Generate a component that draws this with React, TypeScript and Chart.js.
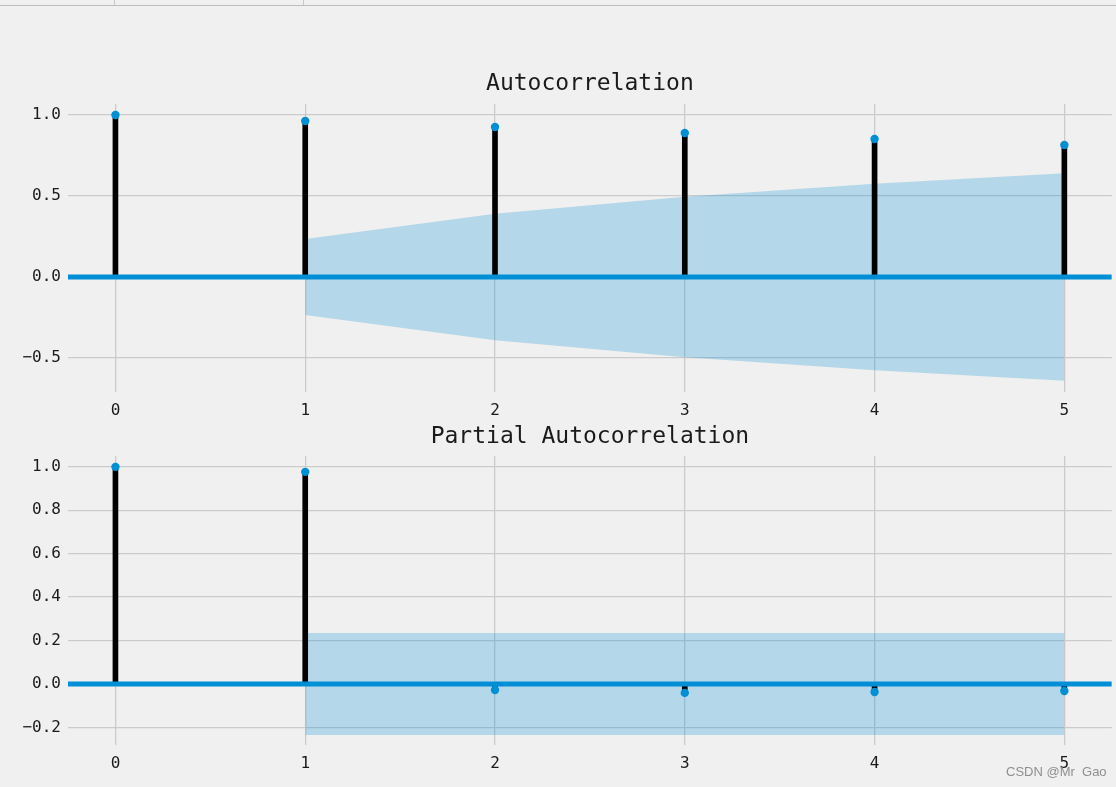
import React, { useEffect, useRef } from "react";
import { Chart, registerables } from "chart.js";

Chart.register(...registerables);

const LAGS = [0, 1, 2, 3, 4, 5];
const X_TICKS = [0, 1, 2, 3, 4, 5];
const ACF_VALUES = [1.0, 0.963, 0.926, 0.889, 0.852, 0.815];
const ACF_CONF_LAGS = [1, 2, 3, 4, 5];
const ACF_CONF = [0.235, 0.39, 0.495, 0.575, 0.64];
const PACF_VALUES = [1.0, 0.977, -0.028, -0.041, -0.037, -0.032];
const PACF_CONF_LAGS = [1, 2, 3, 4, 5];
const PACF_CONF = [0.235, 0.235, 0.235, 0.235, 0.235];
const ACF_Y_TICKS = [-0.5, 0.0, 0.5, 1.0];
const PACF_Y_TICKS = [-0.2, 0.0, 0.2, 0.4, 0.6, 0.8, 1.0];
const X_MIN = -0.25;
const X_MAX = 5.25;

const BLUE = "#008fd5";
const BG = "#f0f0f0";
const GRID = "#cbcbcb";
const MONO = '"DejaVu Sans Mono", "Liberation Mono", monospace';

type PanelSpec = {
  title: string;
  values: number[];
  confLags: number[];
  conf: number[];
  yMin: number;
  yMax: number;
  yTicks: number[];
  titleY: number;
  padTop: number;
  xAxisHeight: number;
};

function makeConfig(p: PanelSpec): any {
  const titlePlugin = {
    id: "panelTitle",
    afterDraw(chart: any) {
      const ctx = chart.ctx;
      const { left, right } = chart.chartArea;
      ctx.save();
      ctx.font = `23px ${MONO}`;
      ctx.fillStyle = "#1a1a1a";
      ctx.textAlign = "center";
      ctx.textBaseline = "middle";
      ctx.fillText(p.title, (left + right) / 2, p.titleY);
      ctx.restore();
    },
  };
  const bgPlugin = {
    id: "bgFill",
    beforeDraw(chart: any) {
      const ctx = chart.ctx;
      ctx.save();
      ctx.fillStyle = BG;
      ctx.fillRect(0, 0, chart.width, chart.height);
      ctx.restore();
    },
  };
  return {
    type: "scatter",
    data: {
      datasets: [
        {
          type: "line",
          label: "upper",
          data: p.confLags.map((l, i) => ({ x: l, y: p.conf[i] })),
          borderWidth: 0,
          pointRadius: 0,
          fill: "+1",
          backgroundColor: "rgba(0,143,213,0.25)",
          order: 5,
        },
        {
          type: "line",
          label: "lower",
          data: p.confLags.map((l, i) => ({ x: l, y: -p.conf[i] })),
          borderWidth: 0,
          pointRadius: 0,
          fill: false,
          order: 6,
        },
        {
          type: "bar",
          label: "stems",
          data: LAGS.map((l, i) => ({ x: l, y: p.values[i] })),
          backgroundColor: "#000000",
          barThickness: 5,
          order: 4,
        },
        {
          type: "line",
          label: "zero",
          data: [
            { x: X_MIN, y: 0 },
            { x: X_MAX, y: 0 },
          ],
          borderColor: BLUE,
          borderWidth: 5,
          pointRadius: 0,
          fill: false,
          order: 3,
        },
        {
          type: "scatter",
          label: "points",
          data: LAGS.map((l, i) => ({ x: l, y: p.values[i] })),
          backgroundColor: BLUE,
          borderWidth: 0,
          pointRadius: 4.2,
          order: 1,
        },
      ],
    },
    options: {
      responsive: false,
      animation: false,
      devicePixelRatio: 1,
      layout: { padding: { top: p.padTop, left: 0, right: 4, bottom: 0 } },
      plugins: {
        legend: { display: false },
        tooltip: { enabled: false },
        title: { display: false },
      },
      scales: {
        x: {
          type: "linear",
          min: X_MIN,
          max: X_MAX,
          offset: false,
          afterBuildTicks: (axis: any) => {
            axis.ticks = X_TICKS.map((v) => ({ value: v }));
          },
          afterFit: (axis: any) => {
            axis.height = p.xAxisHeight;
          },
          grid: { color: GRID, lineWidth: 1.3, drawTicks: false, offset: false },
          border: { display: false },
          ticks: {
            padding: 9,
            color: "#1a1a1a",
            font: { family: MONO, size: 16 },
            callback: (v: any) => String(v),
            maxRotation: 0,
          },
        },
        y: {
          type: "linear",
          min: p.yMin,
          max: p.yMax,
          afterBuildTicks: (axis: any) => {
            axis.ticks = p.yTicks.map((v) => ({ value: v }));
          },
          afterFit: (axis: any) => {
            axis.width = 68;
          },
          grid: { color: GRID, lineWidth: 1.3, drawTicks: false },
          border: { display: false },
          ticks: {
            padding: 7,
            color: "#1a1a1a",
            font: { family: MONO, size: 16 },
            callback: (v: any) => Number(v).toFixed(1).replace("-", "\u2212"),
          },
        },
      },
    },
    plugins: [bgPlugin, titlePlugin],
  };
}

function Panel({ spec, top, height }: { spec: PanelSpec; top: number; height: number }) {
  const ref = useRef<HTMLCanvasElement | null>(null);
  useEffect(() => {
    if (!ref.current) return;
    const chart = new Chart(ref.current, makeConfig(spec));
    return () => chart.destroy();
  }, []);
  return (
    <canvas
      ref={ref}
      width={1116}
      height={height}
      style={{ position: "absolute", left: 0, top, width: 1116, height, display: "block" }}
    />
  );
}

const ACF_SPEC: PanelSpec = {
  title: "Autocorrelation",
  values: ACF_VALUES,
  confLags: ACF_CONF_LAGS,
  conf: ACF_CONF,
  yMin: -0.71,
  yMax: 1.068,
  yTicks: ACF_Y_TICKS,
  titleY: 84,
  padTop: 104,
  xAxisHeight: 28,
};

const PACF_SPEC: PanelSpec = {
  title: "Partial Autocorrelation",
  values: PACF_VALUES,
  confLags: PACF_CONF_LAGS,
  conf: PACF_CONF,
  yMin: -0.281,
  yMax: 1.05,
  yTicks: PACF_Y_TICKS,
  titleY: 17,
  padTop: 36,
  xAxisHeight: 42,
};

export default function App() {
  return (
    <div
      style={{
        position: "fixed",
        left: 0,
        top: 0,
        width: 1116,
        height: 787,
        background: BG,
        overflow: "hidden",
      }}
    >
      <div style={{ position: "absolute", left: 0, top: 5, width: 1116, height: 1, background: "#bdbdbd", zIndex: 2 }} />
      <div style={{ position: "absolute", left: 114, top: 0, width: 1, height: 5, background: "#c8c8c8", zIndex: 2 }} />
      <div style={{ position: "absolute", left: 303, top: 0, width: 1, height: 5, background: "#c8c8c8", zIndex: 2 }} />
      <Panel spec={ACF_SPEC} top={0} height={420} />
      <Panel spec={PACF_SPEC} top={420} height={367} />
      <div
        style={{
          position: "absolute",
          left: 1006,
          top: 764,
          fontFamily: '"Liberation Sans", Arial, sans-serif',
          fontSize: 13,
          color: "#8f8f8f",
          whiteSpace: "pre",
          zIndex: 3,
        }}
      >
        {"CSDN @Mr  Gao"}
      </div>
    </div>
  );
}
